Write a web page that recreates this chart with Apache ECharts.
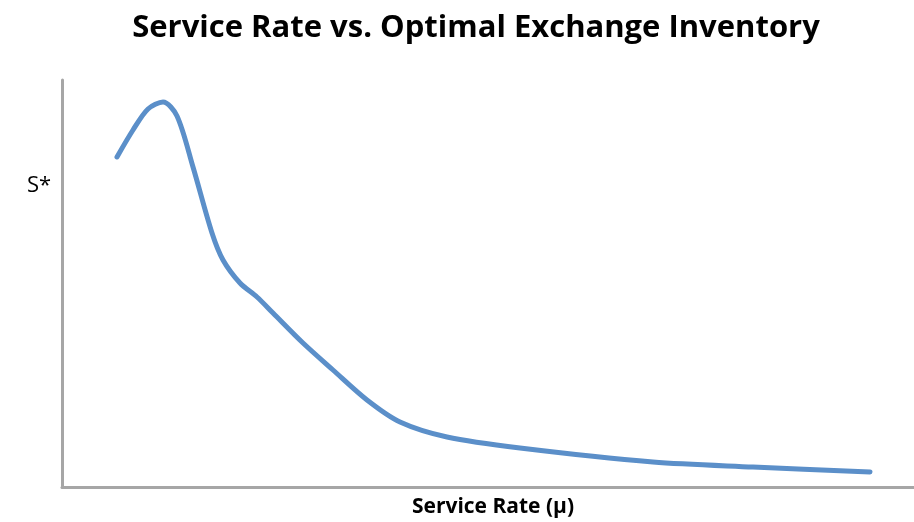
<!DOCTYPE html>
<html>
<head>
<meta charset="utf-8">
<script src="https://cdn.jsdelivr.net/npm/echarts@6/dist/echarts.min.js"></script>
<style>
  html, body { margin: 0; padding: 0; background: #fff; }
  #chart { width: 914px; height: 522px; }
</style>
</head>
<body>
<div id="chart"></div>
<script>
// service rate (arbitrary units) and optimal inventory S*
const serviceRate = [55, 71, 86, 101, 115, 131, 150, 161, 178, 195, 211, 241, 271, 305, 338, 385, 458, 591, 691, 808]
const optimalS = [330, 357, 378, 385, 371, 320, 254, 227, 204, 190, 174, 144, 117, 87, 65, 50, 39, 25, 20, 15]

const chart = echarts.init(document.getElementById('chart'))
const font = '"Open Sans", "Liberation Sans", sans-serif'
const axisColor = '#a6a6a6'

const option = {
  animation: false,
  title: [
    {
      text: 'Service Rate vs. Optimal Exchange Inventory',
      left: 471,
      top: 8,
      textAlign: 'center',
      textStyle: { fontFamily: font, fontWeight: 'bold', fontSize: 31, color: '#000' }
    },
    {
      text: 'S*',
      left: 22,
      top: 170,
      textStyle: { fontFamily: font, fontWeight: 'normal', fontSize: 22, color: '#000' }
    }
  ],
  grid: { left: 62, right: 0, top: 80, bottom: 35, outerBoundsMode: 'none' },
  xAxis: {
    type: 'value',
    min: 0,
    max: 852,
    name: 'Service Rate (μ)',
    nameLocation: 'middle',
    nameGap: 10,
    nameTextStyle: { fontFamily: font, fontWeight: 'bold', fontSize: 21, color: '#000', padding: [0, 0, 0, 10] },
    axisLine: { show: true, lineStyle: { color: axisColor, width: 3 } },
    axisTick: { show: false },
    axisLabel: { show: false },
    splitLine: { show: false }
  },
  yAxis: {
    type: 'value',
    min: 0,
    max: 407,
    axisLine: { show: true, lineStyle: { color: axisColor, width: 3 } },
    axisTick: { show: false },
    axisLabel: { show: false },
    splitLine: { show: false }
  },
  series: [
    {
      type: 'line',
      data: serviceRate.map((x, i) => [x, optimalS[i]]),
      smooth: 0.3,
      symbol: 'none',
      lineStyle: { color: '#5b8fc9', width: 5, cap: 'round', join: 'round' }
    }
  ]
}

chart.setOption(option)
</script>
</body>
</html>
